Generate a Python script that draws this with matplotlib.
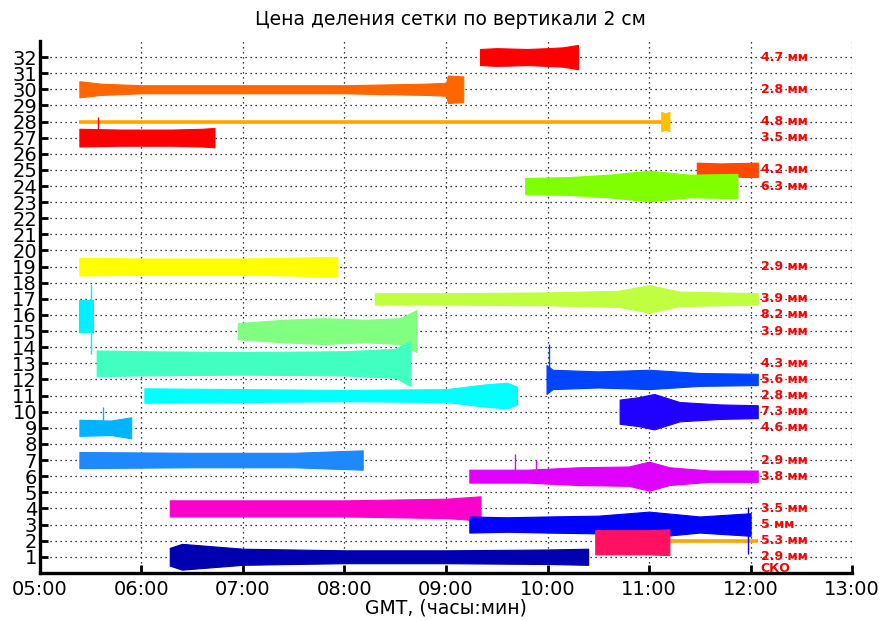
import matplotlib
matplotlib.use("Agg")
import matplotlib.pyplot as plt

plt.rcParams["font.family"] = ["DejaVu Sans"]

TITLE = "Цена деления сетки по вертикали 2 см"
XLABEL = "GMT, (часы:мин)"
HOURS = [5, 6, 7, 8, 9, 10, 11, 12, 13]
HOUR_LABELS = ["05:00", "06:00", "07:00", "08:00", "09:00", "10:00", "11:00", "12:00", "13:00"]
CHANNELS = list(range(1, 33))

# записи: номер канала, моменты времени (ч) и полуразмах огибающей (деления)
TRACE_CH = [32, 30, 28, 27, 25, 24, 19, 17, 16, 15, 13, 12, 11, 10, 9, 7, 6, 4, 3, 2, 1]
TRACE_T = [
    [9.335, 9.5, 9.8, 10.0, 10.15, 10.30],
    [5.39, 5.6, 6.0, 7.0, 8.0, 8.8, 9.0, 9.02, 9.17],
    [11.12, 11.16, 11.2],
    [5.39, 5.8, 6.3, 6.6, 6.72],
    [11.47, 11.7, 12.07],
    [9.78, 10.2, 10.6, 11.0, 11.4, 11.87],
    [5.39, 6.0, 7.0, 7.93],
    [8.30, 9.0, 10.0, 10.7, 11.0, 11.3, 12.07],
    [5.39, 5.52],
    [6.95, 7.4, 7.8, 8.2, 8.55, 8.71],
    [5.56, 6.0, 7.0, 8.0, 8.5, 8.65],
    [9.99, 10.05, 10.5, 11.0, 11.5, 12.07],
    [6.03, 7.0, 8.0, 9.0, 9.4, 9.6, 9.70],
    [10.71, 10.9, 11.05, 11.3, 11.7, 12.07],
    [5.39, 5.7, 5.90],
    [5.39, 6.5, 7.5, 8.18],
    [9.23, 9.8, 10.3, 10.8, 11.0, 11.2, 11.6, 12.07],
    [6.28, 7.0, 8.0, 9.0, 9.34],
    [9.23, 9.6, 10.0, 10.5, 11.0, 11.5, 12.0],
    [10.47, 10.7, 11.0, 11.2],
    [6.28, 6.4, 7.0, 8.0, 9.0, 10.0, 10.40],
]
TRACE_A = [
    [0.5, 0.55, 0.5, 0.55, 0.6, 0.75],
    [0.5, 0.35, 0.25, 0.25, 0.25, 0.35, 0.4, 0.85, 0.8],
    [0.6, 0.5, 0.6],
    [0.55, 0.5, 0.5, 0.55, 0.6],
    [0.45, 0.4, 0.45],
    [0.5, 0.55, 0.7, 0.95, 0.7, 0.75],
    [0.55, 0.5, 0.5, 0.6],
    [0.35, 0.35, 0.4, 0.5, 0.85, 0.45, 0.35],
    [1.0, 1.0],
    [0.5, 0.7, 0.8, 0.7, 0.8, 1.3],
    [0.8, 0.75, 0.7, 0.75, 0.9, 1.4],
    [0.9, 0.6, 0.5, 0.6, 0.4, 0.35],
    [0.45, 0.4, 0.35, 0.4, 0.7, 0.8, 0.55],
    [0.75, 0.9, 1.1, 0.6, 0.45, 0.4],
    [0.5, 0.45, 0.65],
    [0.5, 0.45, 0.45, 0.6],
    [0.4, 0.4, 0.55, 0.6, 0.9, 0.55, 0.35, 0.35],
    [0.5, 0.5, 0.5, 0.6, 0.75],
    [0.5, 0.45, 0.5, 0.55, 0.8, 0.5, 0.7],
    [0.75, 0.75, 0.75, 0.8],
    [0.55, 0.8, 0.5, 0.4, 0.4, 0.45, 0.5],
]
TRACE_SHIFT = [0, 0, 0, 0, 0, 0, 0, 0, -0.05, 0, 0, 0, 0, 0, 0, 0, 0, 0, 0, -0.1, 0]
TRACE_COLOR = [
    "#ff0000", "#ff6600", "#ffc000", "#ff0000", "#ff4800", "#80ff00", "#ffff00",
    "#c0ff40", "#00f0ff", "#80ff80", "#40ffc0", "#0044ff", "#00ffff", "#2000ff",
    "#00b4ff", "#1e88ff", "#e000ff", "#ff00cc", "#0000ff", "#ff1060", "#0000b0",
]

# выбросы: канал, время, нижний и верхний уровень
SPIKE_CH = [27, 16, 12, 9, 6, 6, 3]
SPIKE_T = [5.57, 5.50, 10.01, 5.62, 9.68, 9.89, 11.97]
SPIKE_LO = [26.5, 13.6, 11.2, 8.6, 6.0, 6.0, 1.2]
SPIKE_HI = [28.3, 17.9, 14.2, 10.3, 7.4, 7.0, 4.1]
SPIKE_COLOR = ["#ff0000", "#00f0ff", "#0044ff", "#00b4ff", "#e000ff", "#e000ff", "#0000ff"]

# ровные участки (калибровочные линии)
FLAT_CH = [28, 2]
FLAT_T0 = [5.39, 11.12]
FLAT_T1 = [11.15, 12.07]

# СКО по каналам
RMS_CH = [32, 30, 28, 27, 25, 24, 19, 17, 16, 15, 13, 12, 11, 10, 9, 7, 6, 4, 3, 2, 1]
RMS_TEXT = ["4.7 мм", "2.8 мм", "4.8 мм", "3.5 мм", "4.2 мм", "6.3 мм", "2.9 мм",
            "3.9 мм", "8.2 мм", "3.9 мм", "4.3 мм", "5.6 мм", "2.8 мм", "7.3 мм",
            "4.6 мм", "2.9 мм", "3.8 мм", "3.5 мм", "5 мм", "5.3 мм", "2.9 мм"]
RMS_HEADER = "СКО"

fig = plt.figure(figsize=(8.84, 6.2), dpi=100)
ax = fig.add_axes([0.045, 0.076, 0.919, 0.858])

for ch, t0, t1 in zip(FLAT_CH, FLAT_T0, FLAT_T1):
    ax.plot([t0, t1], [ch, ch], color="#ffa500", lw=2.6, zorder=3, solid_capstyle="butt")

for ch, ts, amps, sh, col in zip(TRACE_CH, TRACE_T, TRACE_A, TRACE_SHIFT, TRACE_COLOR):
    lo = [ch + sh - a for a in amps]
    hi = [ch + sh + a for a in amps]
    ax.fill_between(ts, lo, hi, color=col, lw=0.8, edgecolor=col, zorder=4)

ax.vlines(SPIKE_T, SPIKE_LO, SPIKE_HI, colors=SPIKE_COLOR, lw=1.0, zorder=4)

for ch, txt in zip(RMS_CH, RMS_TEXT):
    ax.text(12.1, ch, txt, color="#ff0000", fontsize=9, fontweight="bold",
            va="center", ha="left", zorder=6)
ax.text(12.1, 0.3, RMS_HEADER, color="#ff0000", fontsize=9, fontweight="bold",
        va="center", ha="left", zorder=6)

ax.set_xlim(5, 13)
ax.set_ylim(0, 33)
ax.set_xticks(HOURS)
ax.set_xticklabels(HOUR_LABELS)
ax.set_yticks(CHANNELS)
ax.tick_params(axis="both", direction="in", length=6, width=2, labelsize=14, pad=3)
ax.tick_params(axis="x", pad=5)
ax.tick_params(axis="y", pad=2)
ax.grid(True, color="black", linestyle=(0, (1, 3)), lw=0.9, zorder=1)
ax.set_axisbelow(True)
for side in ("top", "right"):
    ax.spines[side].set_visible(False)
for side in ("left", "bottom"):
    ax.spines[side].set_linewidth(2.4)

ax.set_xlabel(XLABEL, fontsize=13.5, labelpad=0)
fig.text(0.51, 0.968, TITLE, ha="center", va="center", fontsize=13.5)

fig.savefig("out.png", dpi=100)
